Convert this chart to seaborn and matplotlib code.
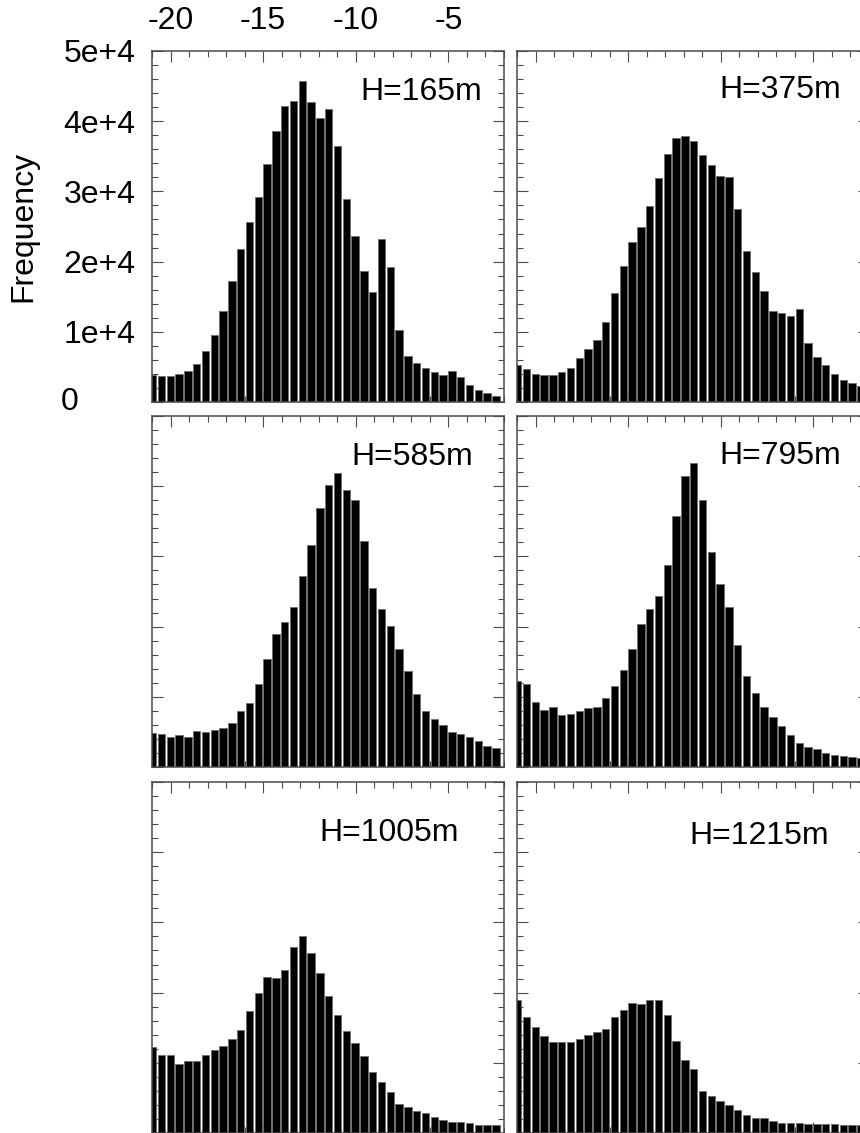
import numpy as np
import pandas as pd
import matplotlib
matplotlib.use("Agg")
import matplotlib.pyplot as plt
import matplotlib.transforms as mtransforms
from matplotlib.ticker import MultipleLocator
import seaborn as sns

# ---------------- data ----------------
bin_start = -21.2
bin_width = 0.475
n_bins = 40

heights_m = ["H=165m", "H=375m", "H=585m", "H=795m", "H=1005m", "H=1215m"]

h165 = [3840, 3700, 3700, 3990, 4410, 5400, 7260, 9540, 13000, 17240,
        21850, 25650, 29160, 33860, 38650, 42170, 42930, 45730, 42690, 40500,
        41700, 36400, 28900, 23600, 18600, 15600, 23200, 19300, 10200, 6550,
        5550, 4800, 4230, 3840, 4410, 3510, 2420, 1710, 1330, 850]
h375 = [5220, 4650, 3990, 3800, 3800, 4230, 4800, 6220, 7500, 8780,
        11440, 15480, 19420, 22800, 24940, 27880, 31860, 35280, 37560, 37850,
        37130, 35140, 33710, 32150, 32000, 27490, 21560, 18570, 15860, 13010,
        12630, 12250, 13300, 8360, 6400, 5270, 3990, 3130, 2750, 2320]
h585 = [4790, 4700, 4320, 4600, 4320, 5170, 4940, 5320, 5550, 6270,
        8020, 9110, 11870, 15380, 18940, 20600, 22740, 27150, 31610, 36830,
        40200, 41870, 39490, 38070, 32140, 25490, 22500, 20120, 16800, 13670,
        10400, 8020, 6840, 5980, 5030, 4700, 4270, 3700, 3000, 2650]
h795 = [12290, 11820, 9300, 8160, 8590, 7450, 7550, 8020, 8450, 8590,
        9830, 11530, 13810, 16800, 20320, 22500, 24390, 28720, 35700, 41480,
        43290, 38060, 30570, 26060, 22740, 17370, 13000, 10540, 8600, 7140,
        5860, 4580, 3490, 2850, 2520, 2050, 1710, 1570, 1420, 1330]
h1005 = [12290, 11040, 11040, 9800, 10320, 10320, 11040, 11890, 12460, 13460,
         14740, 17400, 19960, 22190, 22100, 23180, 26460, 28020, 25660, 22810,
         19540, 16830, 14600, 12770, 10940, 8760, 7240, 5820, 4200, 3670,
         3100, 2780, 2350, 1920, 1540, 1540, 1450, 1070, 1070, 1070]
h1215 = [18880, 16510, 15060, 13780, 12930, 13030, 13030, 13460, 14030, 14450,
         14880, 16510, 17590, 18470, 18440, 19010, 19010, 16830, 13170, 10470,
         9180, 6020, 5240, 4530, 3960, 3250, 2540, 2160, 2160, 1680,
         1450, 1450, 1450, 1350, 1350, 1350, 1250, 1160, 1070, 1070]

series = [h165, h375, h585, h795, h1005, h1215]

xtick_vals = [-20, -15, -10, -5]
xtick_labels = ["-20", "-15", "-10", "-5"]
ytick_vals = [0, 10000, 20000, 30000, 40000, 50000]
ytick_labels = ["", "1e+4", "2e+4", "3e+4", "4e+4", "5e+4"]

edges = [bin_start + bin_width * i for i in range(n_bins + 1)]
centers = [0.5 * (edges[i] + edges[i + 1]) for i in range(n_bins)]

# ---------------- style ----------------
sns.set_style("ticks")
plt.rcParams["font.family"] = ["Liberation Sans", "DejaVu Sans"]
plt.rcParams["font.size"] = 23
plt.rcParams["text.color"] = "black"
plt.rcParams["xtick.labelcolor"] = "black"
plt.rcParams["ytick.labelcolor"] = "black"

W, H = 860, 1133
fig = plt.figure(figsize=(W / 100, H / 100), dpi=100)

col_left = [152, 517]
row_top = [51, 416, 782]
pw, ph = 352, 351

label_pos = [(0.937, 0.883), (0.920, 0.889), (0.912, 0.883),
             (0.922, 0.886), (0.872, 0.854), (0.886, 0.846)]

spine_col = "#4a4a4a"
fs = 23

for k in range(6):
    r, c = divmod(k, 2)
    left = col_left[c] / W
    bottom = 1 - (row_top[r] + ph) / H
    ax = fig.add_axes([left, bottom, pw / W, ph / H])
    df = pd.DataFrame({"x": centers, "count": series[k]})
    sns.histplot(data=df, x="x", weights="count", bins=edges, shrink=0.84,
                 color="black", edgecolor="#6e6e6e", linewidth=0.6,
                 alpha=1, ax=ax)
    ax.set_xlim(-21, -2)
    ax.set_ylim(0, 50000)
    ax.set_xlabel("")
    ax.set_ylabel("")
    ax.set_xticks(xtick_vals)
    ax.xaxis.set_minor_locator(MultipleLocator(1))
    ax.set_yticks(ytick_vals)
    ax.yaxis.set_minor_locator(MultipleLocator(2000))
    for sp in ax.spines.values():
        sp.set_visible(True)
        sp.set_color(spine_col)
        sp.set_linewidth(1.1)
    ax.tick_params(which="both", direction="in", top=True, right=True,
                   bottom=True, left=True, color=spine_col, width=0.8)
    ax.tick_params(which="major", length=8)
    ax.tick_params(which="minor", length=4)
    if k == 0:
        ax.tick_params(axis="x", labeltop=True, labelbottom=False, pad=11,
                       labelsize=fs, labelcolor="black")
        ax.tick_params(axis="y", labelleft=True, pad=12, labelsize=fs,
                       labelcolor="black")
        ax.set_xticklabels(xtick_labels)
        ax.set_yticklabels(ytick_labels)
        trans = mtransforms.blended_transform_factory(ax.transAxes, ax.transData)
        ax.text((61 - 152) / pw, 0, "0", transform=trans, ha="left",
                va="center", fontsize=fs, color="black")
    else:
        ax.tick_params(labeltop=False, labelbottom=False, labelleft=False)
    lx, ly = label_pos[k]
    ax.text(lx, ly, heights_m[k], transform=ax.transAxes, ha="right",
            va="center", fontsize=fs, color="black")

fig.text(23 / W, 1 - 226 / H, "Frequency", rotation=90, ha="center",
         va="center", fontsize=fs, color="black")

fig.savefig("out.png", dpi=100)
